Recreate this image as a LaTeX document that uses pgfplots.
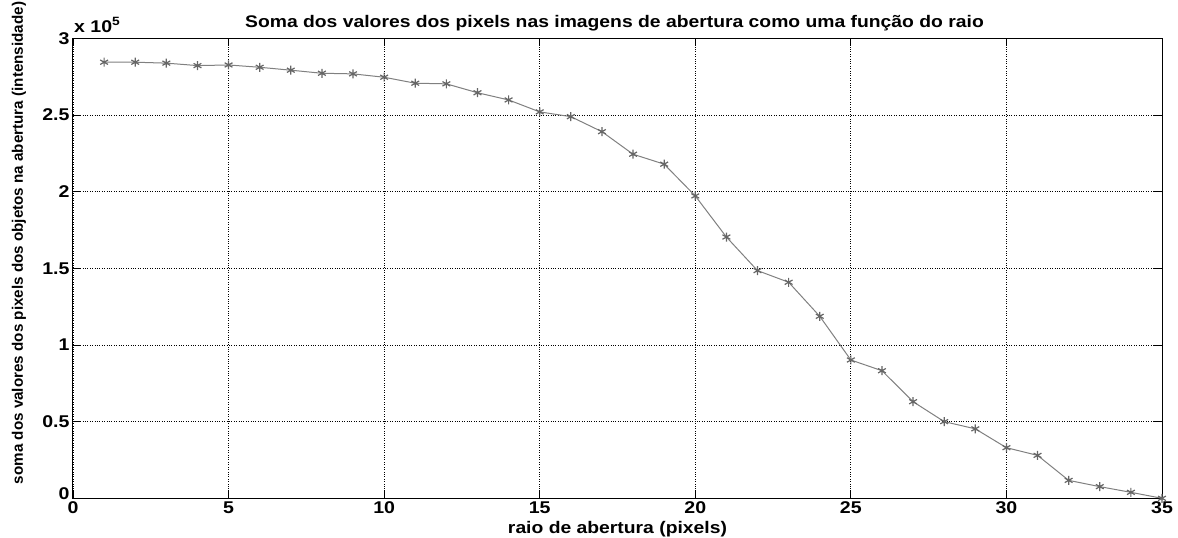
\documentclass[border=0pt]{standalone}
\usepackage{fontspec}
\setmainfont{Liberation Sans}[FakeStretch=1.15]
\newfontfamily\ylfont{Liberation Sans}
\usepackage{pgfplots}
\pgfplotsset{compat=1.18}
\begin{document}
\begin{tikzpicture}
\useasboundingbox (-73pt,-39.7pt) rectangle (1105pt,498.3pt);
\begin{axis}[
  at={(0pt,0pt)}, anchor=south west,
  scale only axis, width=1089pt, height=460pt,
  xmin=0, xmax=35, ymin=0, ymax=300000,
  xtick={0,5,...,35},
  ytick={0,50000,100000,150000,200000,250000,300000},
  yticklabels={\raisebox{9pt}{0},0.5,1,1.5,2,2.5,3},
  scaled y ticks=false,
  /pgf/number format/assume math mode=true,
  tick label style={font=\fontsize{17}{17}\selectfont\bfseries},
  tick align=inside, major tick length=8pt,
  tick style={black, line width=0.8pt},
  axis line style={black, line width=1pt},
  grid=major, major grid style={black, dotted, line width=0.9pt},
  every axis title shift=0pt,
  title={Soma dos valores dos pixels nas imagens de abertura como uma função do raio},
  title style={font=\fontsize{16.8}{17}\selectfont\bfseries, at={(axis description cs:0.5,1)}, anchor=base, yshift=11pt, xshift=-3pt},
  xlabel={raio de abertura (pixels)},
  xlabel style={font=\fontsize{16.8}{17}\selectfont\bfseries, at={(axis description cs:0.5,0)}, anchor=base, yshift=-35pt},
  ylabel={soma dos valores dos pixels dos objetos na abertura (intensidade)},
  ylabel style={font=\ylfont\fontsize{15.2}{16}\selectfont\bfseries, at={(axis description cs:-0.0496,0.555)}, anchor=center},
  clip=false,
]
\addplot[color=gray, line width=1pt, mark=asterisk, mark size=4.5pt, mark options={color=black!60, line width=1.2pt}] coordinates {
(1,284400) (2,284400) (3,283800) (4,282200) (5,282600) (6,281100) (7,279200)
(8,277200) (9,276800) (10,274600) (11,270700) (12,270300) (13,264500) (14,259800)
(15,252000) (16,248900) (17,239100) (18,224400) (19,217900) (20,197200) (21,170400)
(22,148500) (23,140900) (24,118700) (25,90200) (26,83200) (27,63000) (28,50000)
(29,45300) (30,33000) (31,28000) (32,11700) (33,7600) (34,3900) (35,0)
};
\node[font=\fontsize{17}{17}\selectfont\bfseries, anchor=base west, inner sep=0pt] at ([xshift=1pt, yshift=5.5pt]rel axis cs:0,1) {x 10\raisebox{7pt}{\fontsize{12}{12}\selectfont 5}};
\end{axis}
\end{tikzpicture}
\end{document}
